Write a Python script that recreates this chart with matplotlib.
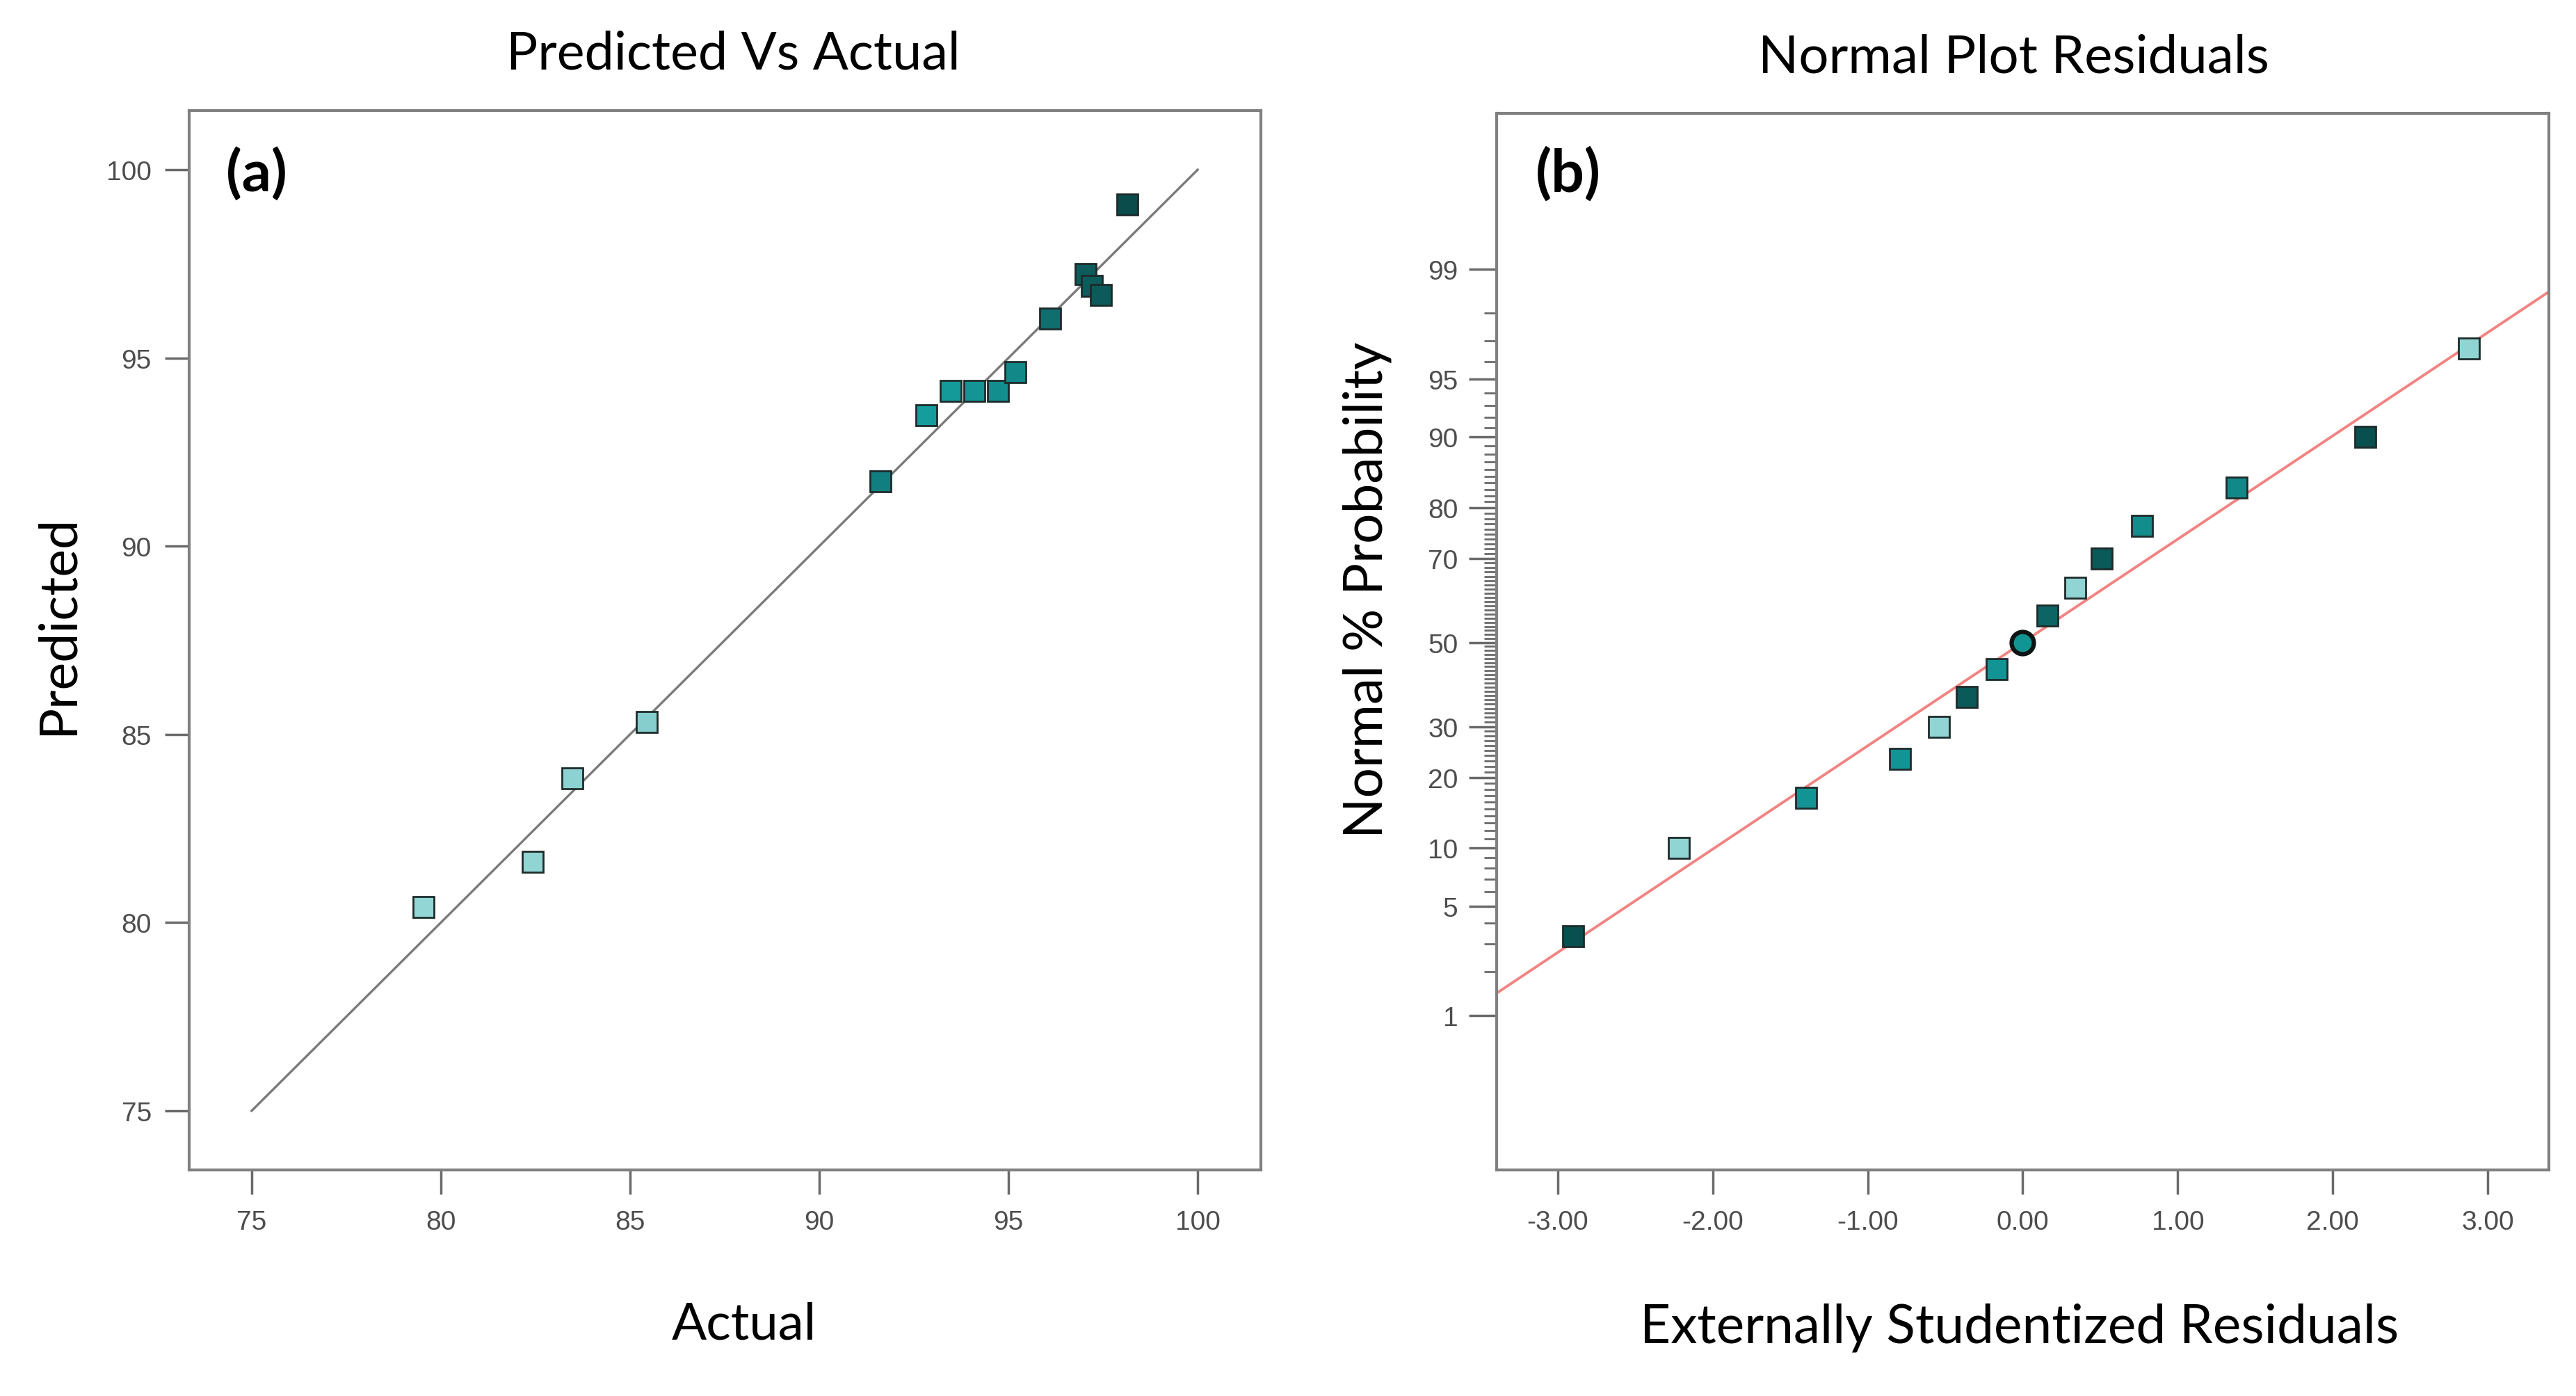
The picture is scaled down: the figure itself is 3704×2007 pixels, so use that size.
import matplotlib.pyplot as plt
import numpy as np
from statistics import NormalDist

# (a) predicted vs actual
actual = [79.55, 82.42, 83.47, 85.45, 91.62, 92.83, 93.48, 94.10, 94.73, 95.19,
          96.11, 97.03, 97.20, 97.44, 98.14]
predicted = [80.42, 81.61, 83.83, 85.33, 91.72, 93.48, 94.12, 94.12, 94.12, 94.63,
             96.04, 97.23, 96.92, 96.68, 99.07]
colors_a = ['#93d6d6', '#90d4d4', '#8dd2d2', '#86cece', '#117f7f', '#159c9c', '#159a9a',
            '#149494', '#138e8e', '#128888', '#0f6e6e', '#0c5c5c', '#0c5c5c', '#0c5a5a', '#0a4c4c']
ref_line = [75, 100]
ticks_a = [75, 80, 85, 90, 95, 100]

# (b) normal plot of residuals
residuals = [-2.90, -2.22, -1.40, -0.79, -0.54, -0.36, -0.17, 0.00, 0.16, 0.34,
             0.51, 0.77, 1.38, 2.21, 2.88]
probability = [3.33, 10.0, 16.67, 23.33, 30.0, 36.67, 43.33, 50.0, 56.67, 63.33,
               70.0, 76.67, 83.33, 90.0, 96.67]
colors_b = ['#084f4f', '#90d4d4', '#139494', '#139494', '#90d4d4', '#0b5a5a', '#139494',
            '#139494', '#0d6464', '#90d4d4', '#0b5a5a', '#138c8c', '#138888', '#084f4f', '#90d4d4']
markers_b = ['s'] * 7 + ['o'] + ['s'] * 7
fit_sd = 1.552
prob_major = [1, 5, 10, 20, 30, 50, 70, 80, 90, 95, 99]
ticks_b = [-3, -2, -1, 0, 1, 2, 3]

W, H = 3705, 2008
fig = plt.figure(figsize=(W / 100, H / 100), dpi=100)
fig.patch.set_facecolor('white')

nd = NormalDist()
fwd = np.vectorize(lambda p: nd.inv_cdf(min(max(p, 1e-7), 100 - 1e-7) / 100), otypes=[float])
inv = np.vectorize(lambda z: nd.cdf(z) * 100, otypes=[float])

ax1 = fig.add_axes([272 / W, 1 - 1683 / H, 1541 / W, 1523 / H])
ax2 = fig.add_axes([2152 / W, 1 - 1683 / H, 1513 / W, 1519 / H])

for ax in (ax1, ax2):
    for sp in ax.spines.values():
        sp.set_color('#808080')
        sp.set_linewidth(3)
    ax.tick_params(direction='out', color='#6a6a6a', width=2.5, labelcolor='#4d4d4d',
                   labelsize=28)

# panel a
ax1.plot(ref_line, ref_line, color='#7a7a7a', lw=2.4, zorder=1)
for x, y, c in zip(actual, predicted, colors_a):
    ax1.plot(x, y, marker='s', ms=22, mfc=c, mec='#1e2b2b', mew=2, ls='none', zorder=2)
ax1.set_xlim(73.35, 101.67)
ax1.set_ylim(73.43, 101.57)
ax1.set_xticks(ticks_a)
ax1.set_yticks(ticks_a)
ax1.tick_params(axis='both', length=25)
ax1.tick_params(axis='x', pad=16)
ax1.tick_params(axis='y', pad=14)

# panel b
ax2.set_yscale('function', functions=(fwd, inv))
line_x = np.array([-3.6, 3.6])
ax2.plot(line_x, inv(line_x / fit_sd), color='#f28482', lw=2.8, zorder=1)
for x, p, c, m in zip(residuals, probability, colors_b, markers_b):
    ax2.plot(x, p, marker=m, ms=22 if m == 's' else 23, mfc=c,
             mec='#1e2b2b' if m == 's' else '#0c1414',
             mew=2 if m == 's' else 4.5, ls='none', zorder=2)
ax2.set_xlim(-3.395, 3.395)
ax2.set_ylim(inv(-3.29), inv(3.30))
ax2.set_xticks(ticks_b)
ax2.set_xticklabels(['%.2f' % t for t in ticks_b])
ax2.set_yticks(prob_major)
ax2.set_yticklabels([str(p) for p in prob_major])
ax2.set_yticks([p for p in range(1, 100) if p not in prob_major], minor=True)
ax2.tick_params(axis='y', which='major', length=29, pad=11)
ax2.tick_params(axis='y', which='minor', length=13, width=2, color='#6a6a6a', direction='out')
ax2.tick_params(axis='x', length=25, pad=16)

for ax in (ax1, ax2):
    for lab in ax.get_xticklabels() + ax.get_yticklabels():
        lab.set_family('Liberation Sans')

renderer = fig.canvas.get_renderer()


def fit_text(x, y, s, width_px, rotation=0, weight='normal', ha='center'):
    t = fig.text(x / W, 1 - y / H, s, ha=ha, va='center', rotation=rotation,
                 fontsize=50, family='Lato', weight=weight, color='black')
    bb = t.get_window_extent(renderer)
    size = bb.width if rotation == 0 else bb.height
    t.set_fontsize(50 * width_px / size)
    return t


fit_text(1054, 78, 'Predicted Vs Actual', 652)
fit_text(2895, 83, 'Normal Plot Residuals', 735)
fit_text(83, 898, 'Predicted', 317, rotation=90)
fit_text(1070, 1905, 'Actual', 208)
fit_text(1966, 848, 'Normal % Probability', 714, rotation=90)
fit_text(2904, 1909, 'Externally Studentized Residuals', 1090)
fit_text(325, 250, '(a)', 88, weight='bold', ha='left')
fit_text(2208, 250, '(b)', 94, weight='bold', ha='left')

fig.savefig('out.png', dpi=100, facecolor='white')
